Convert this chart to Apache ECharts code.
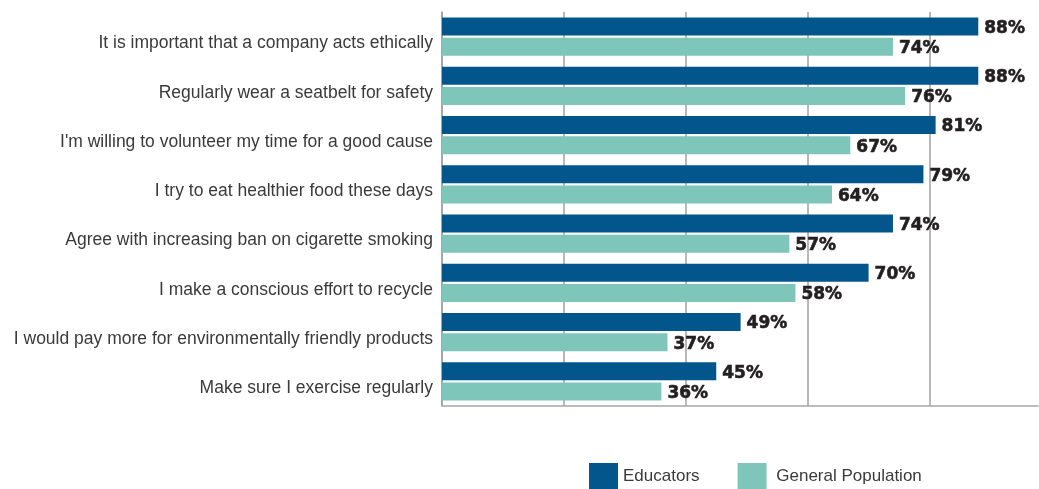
<!DOCTYPE html>
<html>
<head>
<meta charset="utf-8">
<script src="https://cdn.jsdelivr.net/npm/echarts@6/dist/echarts.min.js"></script>
<style>
  html, body { margin: 0; padding: 0; background: #fff; }
  #chart { width: 1039px; height: 489px; }
</style>
</head>
<body>
<div id="chart"></div>
<script>
  const categories = [
    "It is important that a company acts ethically",
    "Regularly wear a seatbelt for safety",
    "I'm willing to volunteer my time for a good cause",
    "I try to eat healthier food these days",
    "Agree with increasing ban on cigarette smoking",
    "I make a conscious effort to recycle",
    "I would pay more for environmentally friendly products",
    "Make sure I exercise regularly"
  ];
  const educators = [88, 88, 81, 79, 74, 70, 49, 45];
  const generalPopulation = [74, 76, 67, 64, 57, 58, 37, 36];

  const chart = echarts.init(document.getElementById("chart"));

  // etiquetas de valor, negritas y oscuras
  const labelStyle = {
    show: true,
    position: "right",
    distance: 6,
    offset: [0, 2],
    formatter: "{c}%",
    color: "#231f20",
    fontFamily: "DejaVu Sans, sans-serif",
    fontWeight: "bold",
    fontSize: 17,
    textBorderColor: "#231f20",
    textBorderWidth: 0.6
  };

  chart.setOption({
    animation: false,
    grid: { left: 442, right: 1, top: 12, bottom: 83, containLabel: false },
    legend: {
      bottom: 0,
      left: 589,
      padding: 0,
      itemWidth: 29,
      itemHeight: 26,
      itemGap: 38,
      icon: "rect",
      formatter: name => (name === "General Population" ? " " + name : name),
      textStyle: { color: "#3a3a3a", fontSize: 17, fontFamily: "Liberation Sans, Arial, sans-serif" },
      data: ["Educators", "General Population"]
    },
    xAxis: {
      type: "value",
      min: 0,
      max: 97.8,
      interval: 20,
      axisLabel: { show: false },
      axisTick: { show: false },
      axisLine: { show: true, lineStyle: { color: "#a6a6a6", width: 1.5 } },
      splitLine: { show: true, showMaxLine: false, lineStyle: { color: "#a0a0a0", width: 1.5 } }
    },
    yAxis: {
      type: "category",
      data: categories,
      inverse: true,
      axisTick: { show: false },
      axisLine: { show: true, lineStyle: { color: "#a0a0a0", width: 1.5 } },
      axisLabel: {
        margin: 9,
        color: "#3a3a3a",
        fontSize: 17.5,
        verticalAlign: "top",
        lineHeight: 14,
        fontFamily: "Liberation Sans, Arial, sans-serif"
      }
    },
    series: [
      {
        name: "Educators",
        type: "bar",
        data: educators,
        barWidth: 18,
        barGap: "12%",
        itemStyle: { color: "#02568c" },
        label: labelStyle
      },
      {
        name: "General Population",
        type: "bar",
        data: generalPopulation,
        barWidth: 18,
        itemStyle: { color: "#7fc6ba" },
        label: labelStyle
      }
    ]
  });

  window.addEventListener("resize", () => chart.resize());
</script>
</body>
</html>
